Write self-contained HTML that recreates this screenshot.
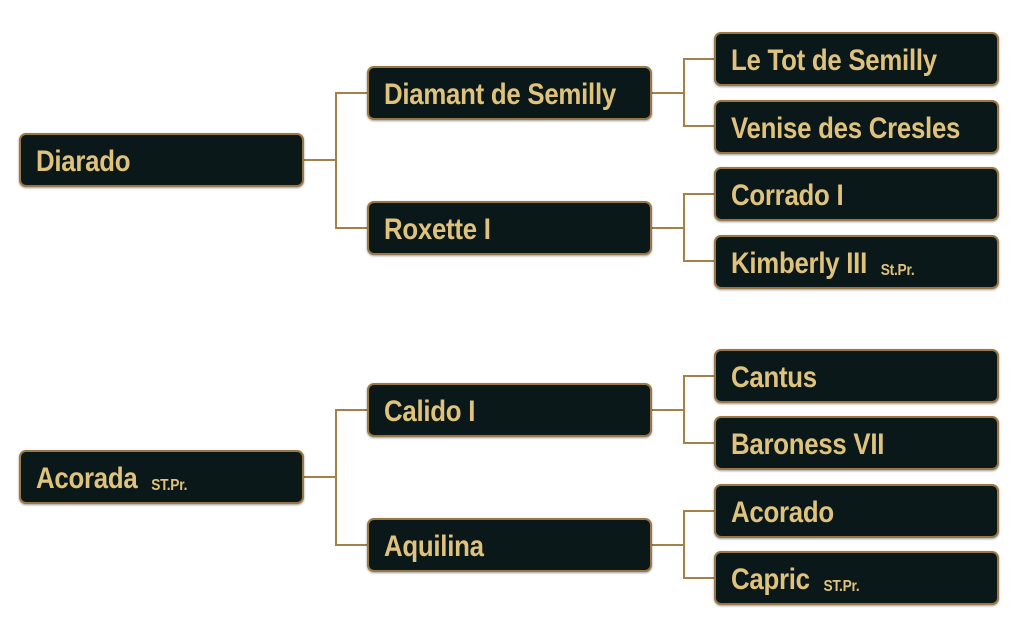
<!DOCTYPE html>
<html><head><meta charset="utf-8"><style>
html,body{margin:0;padding:0;background:#fff;}
body{width:1024px;height:632px;position:relative;overflow:hidden;font-family:"Liberation Sans",sans-serif;}
.b{position:absolute;box-sizing:border-box;width:285px;height:54px;background:#0b181a;border:2px solid #9a7845;border-radius:7px;box-shadow:0 1px 2px rgba(0,0,0,.4);color:#dfc27c;font-weight:bold;font-size:30px;display:flex;align-items:center;padding-left:15px;padding-top:3px;white-space:nowrap;}
.b span{display:inline-block;transform:scaleX(0.86);transform-origin:0 50%;letter-spacing:-0.3px;}
.b small{font-size:16px;margin-left:16px;position:relative;top:2px;}
.l{position:absolute;background:#a4804b;}
</style></head><body>
<div class="l" style="left:304px;top:159px;width:32px;height:2px"></div>
<div class="l" style="left:335px;top:92px;width:2px;height:136px"></div>
<div class="l" style="left:335px;top:92px;width:33px;height:2px"></div>
<div class="l" style="left:335px;top:227px;width:33px;height:2px"></div>
<div class="l" style="left:304px;top:476px;width:32px;height:2px"></div>
<div class="l" style="left:335px;top:409px;width:2px;height:136px"></div>
<div class="l" style="left:335px;top:409px;width:33px;height:2px"></div>
<div class="l" style="left:335px;top:544px;width:33px;height:2px"></div>
<div class="l" style="left:651px;top:92px;width:33px;height:2px"></div>
<div class="l" style="left:683px;top:58px;width:2px;height:69px"></div>
<div class="l" style="left:683px;top:58px;width:32px;height:2px"></div>
<div class="l" style="left:683px;top:125px;width:32px;height:2px"></div>
<div class="l" style="left:651px;top:227px;width:33px;height:2px"></div>
<div class="l" style="left:683px;top:193px;width:2px;height:69px"></div>
<div class="l" style="left:683px;top:193px;width:32px;height:2px"></div>
<div class="l" style="left:683px;top:260px;width:32px;height:2px"></div>
<div class="l" style="left:651px;top:409px;width:33px;height:2px"></div>
<div class="l" style="left:683px;top:375px;width:2px;height:69px"></div>
<div class="l" style="left:683px;top:375px;width:32px;height:2px"></div>
<div class="l" style="left:683px;top:442px;width:32px;height:2px"></div>
<div class="l" style="left:651px;top:544px;width:33px;height:2px"></div>
<div class="l" style="left:683px;top:510px;width:2px;height:69px"></div>
<div class="l" style="left:683px;top:510px;width:32px;height:2px"></div>
<div class="l" style="left:683px;top:577px;width:32px;height:2px"></div>

<div class="b" style="left:19px;top:133px"><span>Diarado</span></div>
<div class="b" style="left:19px;top:450px"><span>Acorada<small>ST.Pr.</small></span></div>

<div class="b" style="left:367px;top:66px"><span>Diamant de Semilly</span></div>
<div class="b" style="left:367px;top:201px"><span>Roxette I</span></div>
<div class="b" style="left:367px;top:383px"><span>Calido I</span></div>
<div class="b" style="left:367px;top:518px"><span>Aquilina</span></div>

<div class="b" style="left:714px;top:32px"><span>Le Tot de Semilly</span></div>
<div class="b" style="left:714px;top:100px"><span>Venise des Cresles</span></div>
<div class="b" style="left:714px;top:167px"><span>Corrado I</span></div>
<div class="b" style="left:714px;top:235px"><span>Kimberly III<small>St.Pr.</small></span></div>
<div class="b" style="left:714px;top:349px"><span>Cantus</span></div>
<div class="b" style="left:714px;top:416px"><span>Baroness VII</span></div>
<div class="b" style="left:714px;top:484px"><span>Acorado</span></div>
<div class="b" style="left:714px;top:551px"><span>Capric<small>ST.Pr.</small></span></div>
</body></html>
